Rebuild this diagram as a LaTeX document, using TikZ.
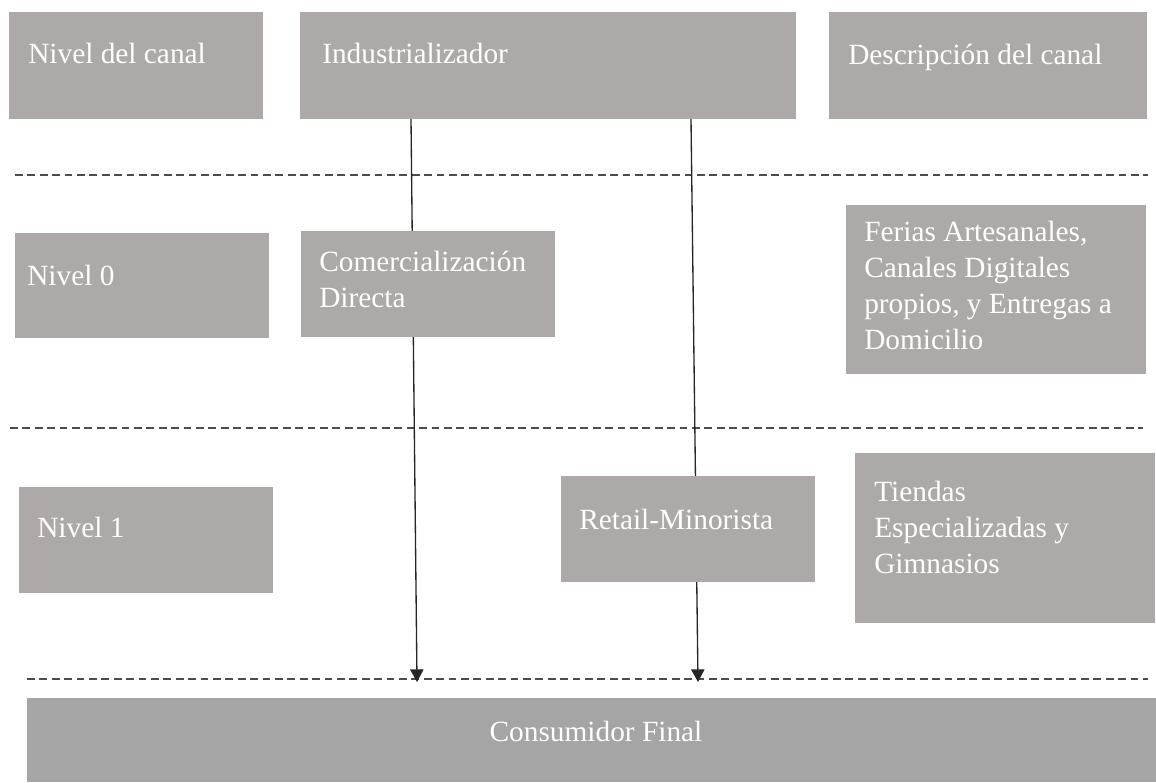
\documentclass[tikz,border=0pt]{standalone}
\usepackage{fontspec}
\setmainfont{Liberation Serif}
\usetikzlibrary{arrows.meta,fit,backgrounds}
\definecolor{boxgray}{HTML}{ADA9A8}
\definecolor{endgray}{HTML}{A5A5A5}
\begin{document}
\begin{tikzpicture}[x=0.75pt, y=-0.75pt,
  box/.style = {fill=boxgray, inner sep=0pt},
  lbl/.style = {text=white, font=\fontsize{22}{27}\selectfont, align=left, inner sep=0pt, anchor=north west},
  level/.style = {draw=black!70, line width=1.4pt, dash pattern=on 5.8pt off 3.5pt},
  flow/.style = {draw=black!85, line width=1pt, -{Triangle[length=9.5pt, width=10pt]}}]
\useasboundingbox (0,0) rectangle (1156,782);
% boxes
\node[box, fit={(9,12) (263,119)}] (niv) {};
\node[box, fit={(300,12) (796,119)}] (ind) {};
\node[box, fit={(829,12) (1147,119)}] (des) {};
\node[box, fit={(15,233) (269,338)}] (n0) {};
\node[box, fit={(301,231) (555,337)}] (com) {};
\node[box, fit={(846,205) (1146,374)}] (fer) {};
\node[box, fit={(19,487) (273,593)}] (n1) {};
\node[box, fit={(561,476) (815,582)}] (ret) {};
\node[box, fit={(855,453) (1155,623)}] (tie) {};
\node[box, fill=endgray, fit={(27,698) (1156,782)}] (con) {};
% texts
\node[lbl] (nivT) at (28,43) {Nivel del canal};
\node[lbl] (indT) at (322,43) {Industrializador};
\node[lbl] (desT) at (848,44) {Descripción del canal};
\node[lbl] (n0T) at (27,265) {Nivel 0};
\node[lbl] (comT) at (319,251) {Comercialización\\Directa};
\node[lbl] (ferT) at (864,221) {Ferias Artesanales,\\Canales Digitales\\propios, y Entregas a\\Domicilio};
\node[lbl] (n1T) at (37,517) {Nivel 1};
\node[lbl] (retT) at (579,509) {Retail-Minorista};
\node[lbl] (tieT) at (874,481) {Tiendas\\Especializadas y\\Gimnasios};
\node[lbl, anchor=north] (conT) at (596,721) {Consumidor Final};
% flows
\coordinate (s1) at (411,119);
\coordinate (e1) at (417,682);
\coordinate (s2) at (691,119);
\coordinate (e2) at (698,682);
\begin{pgfonlayer}{background}
\draw[level] (15,175) -- (1148,175);
\draw[level] (10,428) -- (1143,428);
\draw[level] (27,679) -- (1148,679);
\draw[flow] (s1) -- (e1);
\draw[flow] (s2) -- (e2);
\end{pgfonlayer}
\end{tikzpicture}
\end{document}
